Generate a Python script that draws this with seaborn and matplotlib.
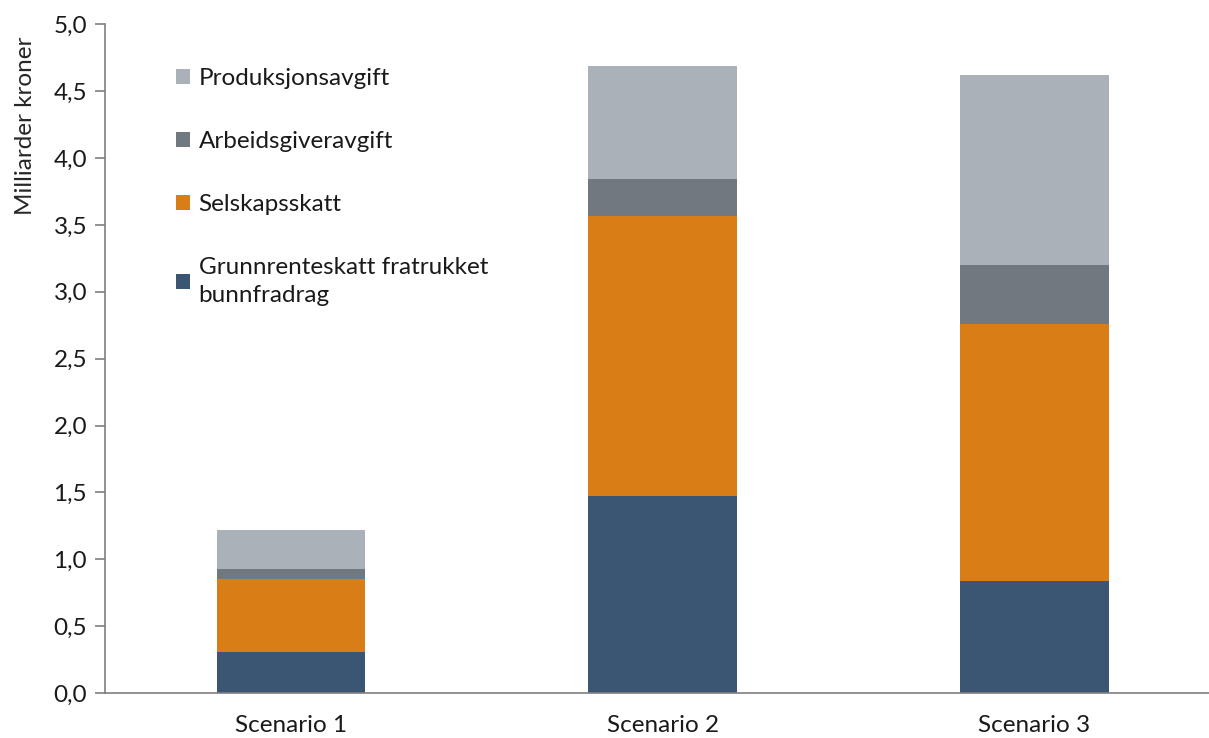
import numpy as np
import pandas as pd
import matplotlib
matplotlib.use("Agg")
import matplotlib.pyplot as plt
from matplotlib.patches import Patch
from matplotlib.ticker import FuncFormatter
import seaborn as sns

scenarios = ["Scenario 1", "Scenario 2", "Scenario 3"]
grunnrenteskatt = [0.31, 1.47, 0.84]
selskapsskatt = [0.54, 2.10, 1.92]
arbeidsgiveravgift = [0.08, 0.27, 0.44]
produksjonsavgift = [0.29, 0.85, 1.42]

series_names = [
    "Grunnrenteskatt fratrukket\nbunnfradrag",
    "Selskapsskatt",
    "Arbeidsgiveravgift",
    "Produksjonsavgift",
]
series_values = [grunnrenteskatt, selskapsskatt, arbeidsgiveravgift, produksjonsavgift]
colors = ["#3A5673", "#D97D17", "#717980", "#ABB1B8"]

sns.set_theme(style="white")
plt.rcParams["font.family"] = ["Lato", "DejaVu Sans"]

FS = 17.5

fig = plt.figure(figsize=(12.09, 7.38), dpi=100)
ax = fig.add_axes([0.087, 0.061, 0.913, 0.906])

# stacked bars: draw cumulative totals from the top layer down
cum = np.cumsum(np.array(series_values), axis=0)
for i in range(len(series_names) - 1, -1, -1):
    df = pd.DataFrame({"scenario": scenarios, "value": cum[i]})
    sns.barplot(data=df, x="scenario", y="value", color=colors[i],
                saturation=1, width=0.4, ax=ax, edgecolor="none", linewidth=0)

ax.set_xlim(-0.5, 2.47)
ax.set_ylim(0, 5.0)
ax.set_yticks(np.arange(0, 5.01, 0.5))
ax.yaxis.set_major_formatter(FuncFormatter(lambda v, p: f"{v:.1f}".replace(".", ",")))
ax.set_xlabel("")
ax.set_ylabel("Milliarder kroner", fontsize=17.5)
ax.yaxis.set_label_coords(-0.063, 0.849)

for side in ["top", "right"]:
    ax.spines[side].set_visible(False)
for side in ["left", "bottom"]:
    ax.spines[side].set_color("#7f7f7f")
    ax.spines[side].set_linewidth(1.2)

ax.tick_params(axis="y", which="major", left=True, direction="out", length=7,
               width=1.2, color="#7f7f7f", labelsize=FS, labelcolor="#1a1a1a", pad=6)
ax.tick_params(axis="x", bottom=False, labelsize=FS, labelcolor="#1a1a1a", pad=10)

handles = [Patch(facecolor=colors[i], edgecolor="none") for i in range(len(series_names))][::-1]
labels = series_names[::-1]
leg = ax.legend(handles, labels, loc="upper left", bbox_to_anchor=(0.044, 0.967),
                frameon=False, fontsize=FS, labelspacing=1.72, handlelength=0.6,
                handleheight=0.6, handletextpad=0.35)
for t in leg.get_texts():
    t.set_color("#1a1a1a")
    t.set_linespacing(1.45)

fig.savefig("out.png", dpi=100)
